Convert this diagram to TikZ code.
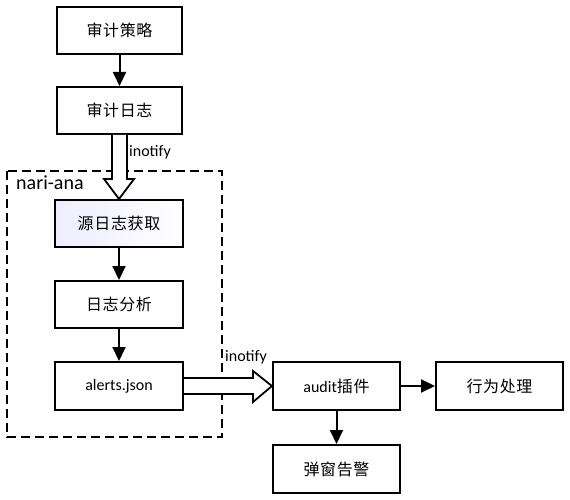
\documentclass[tikz,border=0pt]{standalone}
\usepackage{fontspec}
\setmainfont{Carlito}
\newfontfamily\cjk[LetterSpace=4]{Noto Sans CJK SC}
\usetikzlibrary{arrows.meta,calc}
\tikzset{
  boxnode/.style={draw=black,line width=2pt,fill=white,minimum width=125pt,minimum height=47pt,inner sep=0pt,font=\fontsize{16}{18}\selectfont},
  flowarrow/.style={line width=2pt,-{Triangle[length=14pt,width=13pt]}},
  hollow/.style={draw=black,line width=1.8pt,fill=white,line join=miter},
  lbl/.style={inner sep=0pt,anchor=west,font=\fontsize{16}{18}\selectfont}
}
\begin{document}
\begin{tikzpicture}[x=1pt,y=-1pt]
\useasboundingbox (0,0) rectangle (570,500);
\draw[line width=2pt,dash pattern=on 9pt off 5pt] (7,171) rectangle (222,437);
\node[lbl,font=\fontsize{20}{22}\selectfont] (nari) at (16,183) {nari-ana};
\node[boxnode] (b1) at (119.5,30.5) {\cjk 审计策略};
\node[boxnode] (b2) at (119.5,110.5) {\cjk 审计日志};
\node[boxnode,minimum width=128pt,left color=blue!7,right color=white] (b3) at (119,223.5) {\cjk 源日志获取};
\node[boxnode,minimum width=128pt] (b4) at (119,304.5) {\cjk 日志分析};
\node[boxnode,minimum width=128pt,minimum height=48pt] (b5) at (119,386) {alerts.json};
\node[boxnode,minimum width=127pt,minimum height=48pt] (au) at (336.5,386) {audit{\cjk 插件}};
\node[boxnode,minimum width=127pt,minimum height=48pt] (xw) at (499.5,386) {\cjk 行为处理};
\node[boxnode,minimum width=127pt,minimum height=48pt] (tc) at (336.5,469) {\cjk 弹窗告警};
\draw[flowarrow] (b1) -- (b2);
\draw[flowarrow] (b3) -- (b4);
\draw[flowarrow] (b4) -- (b5);
\draw[flowarrow] (au) -- (xw);
\draw[flowarrow] (au) -- (tc);
% hollow vertical arrow
\draw[hollow] ($(b2.south)+(-7.5,0)$) -- ($(b2.south)+(-7.5,44)$) -- ($(b2.south)+(-15.5,44)$)
  -- (b3.north) -- ($(b2.south)+(14.5,44)$) -- ($(b2.south)+(7.5,44)$) -- ($(b2.south)+(7.5,0)$);
\node[lbl] (ino1) at (129,152) {inotify};
% hollow horizontal arrow
\draw[hollow] ($(b5.east)+(0,-8)$) -- ($(b5.east)+(69,-8)$) -- ($(b5.east)+(69,-15)$)
  -- (au.west) -- ($(b5.east)+(69,16)$) -- ($(b5.east)+(69,8)$) -- ($(b5.east)+(0,8)$);
\node[lbl] (ino2) at (225,357) {inotify};
\end{tikzpicture}
\end{document}
